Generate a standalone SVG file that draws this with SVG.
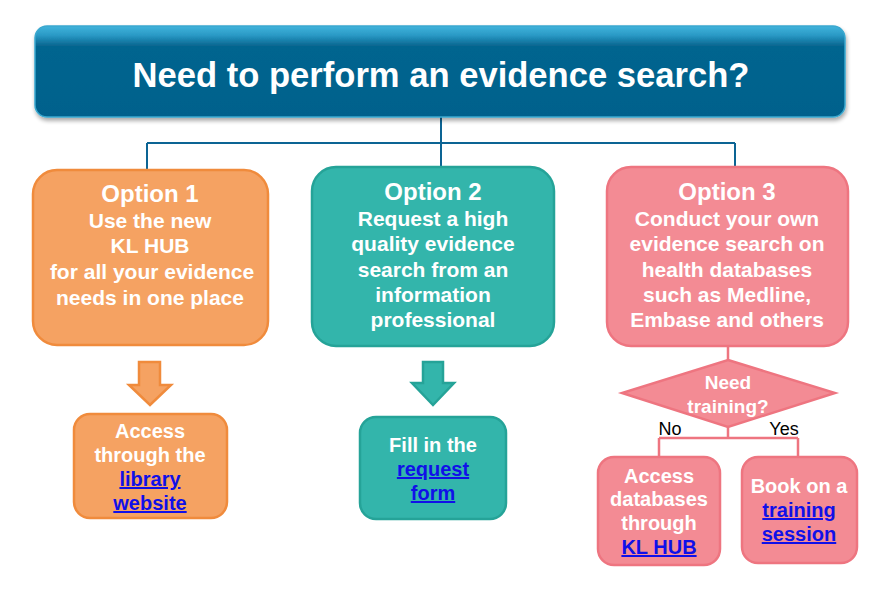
<svg xmlns="http://www.w3.org/2000/svg" width="887" height="596" viewBox="0 0 887 596">
<defs>
<linearGradient id="hdr" x1="0" y1="0" x2="0" y2="1">
<stop offset="0" stop-color="#40b4dc"/>
<stop offset="0.1" stop-color="#2b9ac6"/>
<stop offset="0.22" stop-color="#06658f"/>
<stop offset="1" stop-color="#04618c"/>
</linearGradient>
<filter id="sh" x="-5%" y="-10%" width="110%" height="130%">
<feGaussianBlur in="SourceAlpha" stdDeviation="2"/>
<feOffset dx="1" dy="3"/>
<feComponentTransfer><feFuncA type="linear" slope="0.35"/></feComponentTransfer>
<feMerge><feMergeNode/><feMergeNode in="SourceGraphic"/></feMerge>
</filter>
</defs>
<style>
text{font-family:"Liberation Sans",Arial,sans-serif;font-weight:bold;text-anchor:middle;fill:#ffffff}
.t{font-size:21px}
.h{font-size:24px}
.s{font-size:20px}
.lk{fill:#1010e8;text-decoration:underline}
.lbl{font-weight:normal;fill:#000;font-size:18px}
.or{fill:#f5a262;stroke:#f08b3c;stroke-width:2.5}
.te{fill:#33b5ab;stroke:#25a398;stroke-width:2.5}
.pk{fill:#f38b94;stroke:#ee7580;stroke-width:2.5}
.cb{fill:none;stroke:#0c6494;stroke-width:2}
.cp{fill:none;stroke:#ee7580;stroke-width:2.5}
</style>
<g id="connectors">
<path class="cb" d="M441 117V167M147 143H735M147 143V170M735 143V167"/>
<path class="cp" d="M728 346V360M728 427V438M659 438H798M659 438V457M798 438V457"/>
<path class="or" d="M139 362H160V385H171L150 405L129 385H139Z"/>
<path class="te" d="M423 362H443V383H454L433 405L412 383H423Z"/>
</g>
<g id="header">
<rect x="35" y="26" width="810" height="91" rx="12" fill="url(#hdr)" stroke="#3aa8cf" stroke-width="1.5" filter="url(#sh)"/>
<text x="441" y="87" style="font-size:34.6px">Need to perform an evidence search?</text>
</g>
<g id="option1">
<rect class="or" x="33" y="170" width="235" height="175" rx="24"/>
<text class="h" x="150" y="202">Option 1</text>
<text class="t" x="150" y="228">Use the new</text>
<text class="t" x="150" y="253">KL HUB</text>
<text class="t" x="152" y="279">for all your evidence</text>
<text class="t" x="150" y="305">needs in one place</text>
</g>
<g id="option2">
<rect class="te" x="312" y="167" width="242" height="179" rx="24"/>
<text class="h" x="433" y="200">Option 2</text>
<text class="t" x="433" y="226">Request a high</text>
<text class="t" x="433" y="251">quality evidence</text>
<text class="t" x="433" y="277">search from an</text>
<text class="t" x="433" y="302">information</text>
<text class="t" x="433" y="327">professional</text>
</g>
<g id="option3">
<rect class="pk" x="607" y="167" width="241" height="179" rx="24"/>
<text class="h" x="727" y="200">Option 3</text>
<text class="t" x="727" y="226">Conduct your own</text>
<text class="t" x="727" y="251">evidence search on</text>
<text class="t" x="727" y="277">health databases</text>
<text class="t" x="727" y="302">such as Medline,</text>
<text class="t" x="727" y="327">Embase and others</text>
</g>
<g id="library">
<rect class="or" x="74" y="414" width="153" height="104" rx="16"/>
<text class="s" x="150" y="438">Access</text>
<text class="s" x="150" y="462">through the</text>
<text class="s lk" x="150" y="486">library</text>
<text class="s lk" x="150" y="510">website</text>
</g>
<g id="request">
<rect class="te" x="360" y="417" width="146" height="102" rx="16"/>
<text class="s" x="433" y="452">Fill in the</text>
<text class="s lk" x="433" y="476">request</text>
<text class="s lk" x="433" y="500">form</text>
</g>
<g id="decision">
<path class="pk" d="M728 360L835 393L728 427L622 393Z"/>
<text x="728" y="389" style="font-size:19px">Need</text>
<text x="728" y="413" style="font-size:19px">training?</text>
<text class="lbl" x="670" y="435">No</text>
<text class="lbl" x="784" y="435">Yes</text>
</g>
<g id="klhub">
<rect class="pk" x="598" y="457" width="122" height="108" rx="16"/>
<text class="s" x="659" y="483">Access</text>
<text class="s" x="659" y="506">databases</text>
<text class="s" x="659" y="530">through</text>
<text class="s lk" x="659" y="554">KL HUB</text>
</g>
<g id="training">
<rect class="pk" x="742" y="457" width="115" height="106" rx="16"/>
<text class="s" x="799" y="493">Book on a</text>
<text class="s lk" x="799" y="517">training</text>
<text class="s lk" x="799" y="541">session</text>
</g>
</svg>
